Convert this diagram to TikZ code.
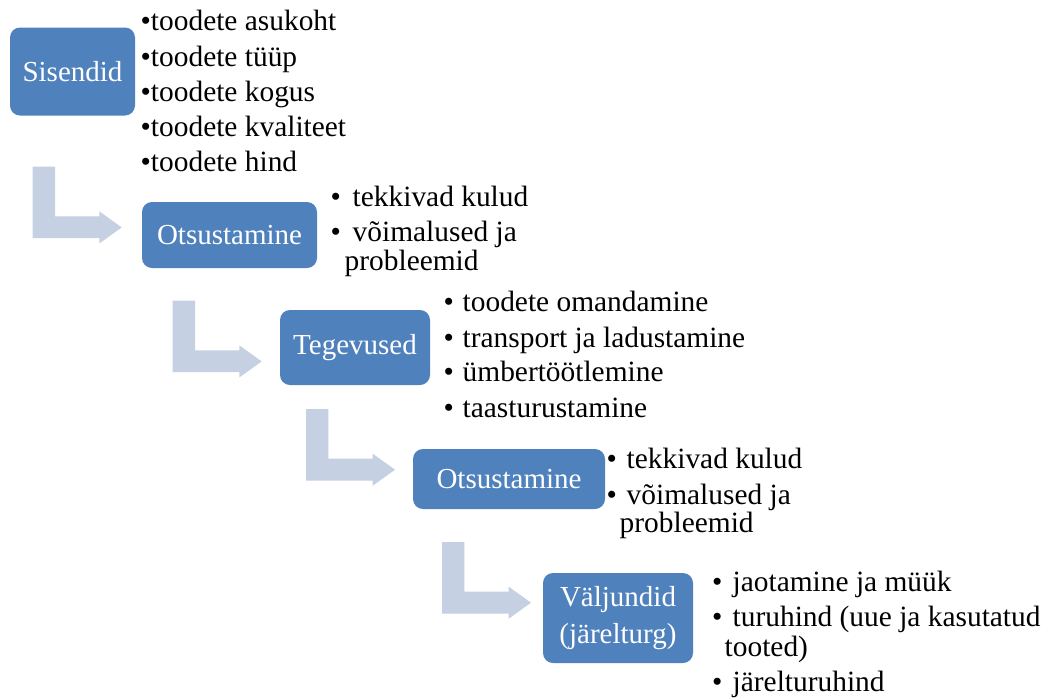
\documentclass[tikz,border=0pt]{standalone}
\usepackage{fontspec}
\setmainfont{Liberation Serif}
\definecolor{boxblue}{RGB}{79,129,189}
\definecolor{arrowgrey}{RGB}{197,208,227}
\begin{document}
\begin{tikzpicture}[x=1pt,y=-1pt,
  stage/.style={fill=boxblue, draw=none, rounded corners=10pt, text=white,
    font=\fontsize{29}{37}\selectfont, align=center, inner sep=0pt},
  item/.style={anchor=base west, inner sep=0pt, font=\fontsize{29.4}{34}\selectfont},
  bentarrow/.pic={
    \fill[arrowgrey] (0,0) -- (22.3,0) -- (22.3,49.7) -- (66.7,49.7) -- (66.7,44.7)
      -- (89,60.7) -- (66.7,76.7) -- (66.7,71.5) -- (0,71.5) -- cycle;
  }]
\useasboundingbox (0,0) rectangle (1044,697);

% stage boxes
\node[stage, minimum width=125pt, minimum height=88pt] (sis) at (72.5,71.5) {Sisendid};
\node[stage, minimum width=175pt, minimum height=66pt] (ots1) at (229.5,235) {Otsustamine};
\node[stage, minimum width=150pt, minimum height=75pt] (teg) at (355,347.5) {Tegevused};
\node[stage, minimum width=192pt, minimum height=60pt] (ots2) at (509,479) {Otsustamine};
\node[stage, minimum width=150pt, minimum height=90pt] (val) at (618,618) {Väljundid\\(järelturg)};

% bent arrows between the stages
\pic at (32.7,166.7) {bentarrow};
\pic at (172.7,300.7) {bentarrow};
\pic at (306,409) {bentarrow};
\pic at (442,542) {bentarrow};

% inputs
\node[item] (s1) at (140.5,30.8) {•toodete asukoht};
\node[item] (s2) at (140.5,66) {•toodete tüüp};
\node[item] (s3) at (140.5,101.3) {•toodete kogus};
\node[item] (s4) at (140.5,136.6) {•toodete kvaliteet};
\node[item] (s5) at (140.5,171.8) {•toodete hind};

% first decision
\node[item] (a1b) at (330.5,206) {•};
\node[item] (a1) at (352.5,206) {tekkivad kulud};
\node[item] (a2b) at (330.5,241.7) {•};
\node[item] (a2) at (352.5,241.7) {võimalused ja};
\node[item] (a3) at (344.5,270.7) {probleemid};

% activities
\node[item] (t1b) at (443.5,311.7) {•};
\node[item] (t1) at (462.5,311.7) {toodete omandamine};
\node[item] (t2b) at (443.5,347.7) {•};
\node[item] (t2) at (462.5,347.7) {transport ja ladustamine};
\node[item] (t3b) at (443.5,381.7) {•};
\node[item] (t3) at (462.5,381.7) {ümbertöötlemine};
\node[item] (t4b) at (443.5,417.3) {•};
\node[item] (t4) at (462.5,417.3) {taasturustamine};

% second decision
\node[item] (b1b) at (606.5,468.3) {•};
\node[item] (b1) at (626.5,468.3) {tekkivad kulud};
\node[item] (b2b) at (606.5,504) {•};
\node[item] (b2) at (626.5,504) {võimalused ja};
\node[item] (b3) at (619.5,532.7) {probleemid};

% outputs
\node[item] (v1b) at (711.8,591.7) {•};
\node[item] (v1) at (732.5,591.7) {jaotamine ja müük};
\node[item] (v2b) at (711.8,626.7) {•};
\node[item] (v2) at (732.5,626.7) {turuhind (uue ja kasutatud};
\node[item] (v3) at (724.5,656.7) {tooted)};
\node[item] (v4b) at (711.8,691.7) {•};
\node[item] (v4) at (732.5,691.7) {järelturuhind};
\end{tikzpicture}
\end{document}
